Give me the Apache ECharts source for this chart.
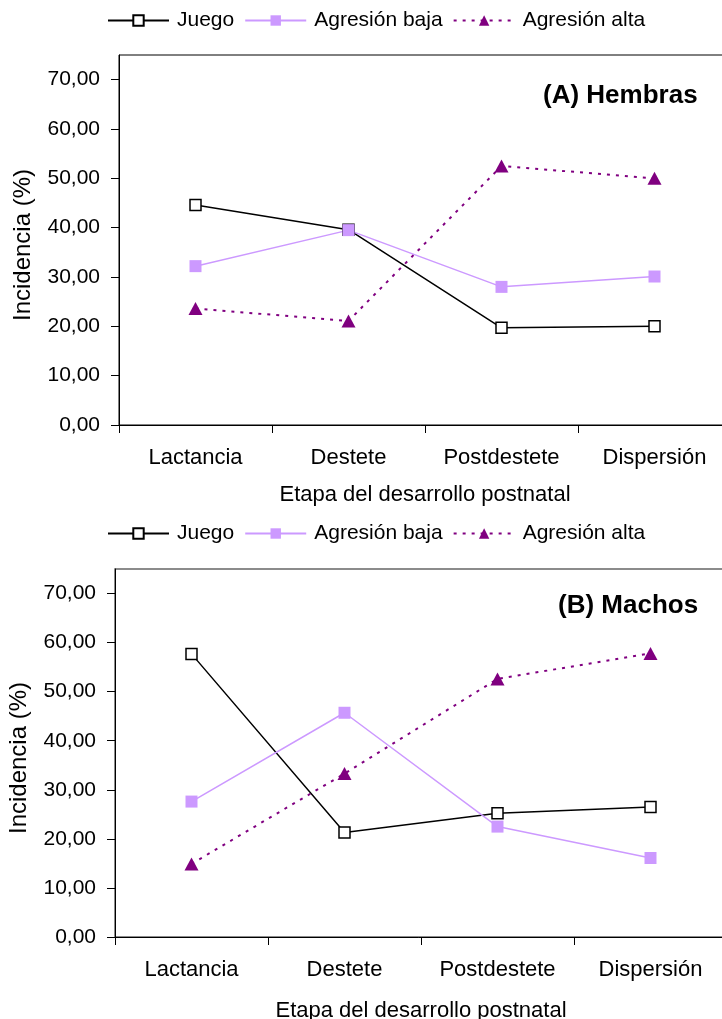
<!DOCTYPE html>
<html>
<head>
<meta charset="utf-8">
<script src="https://cdn.jsdelivr.net/npm/echarts@6/dist/echarts.min.js"></script>
<style>
html,body{margin:0;padding:0;background:#fff;}
#main{width:722px;height:1019px;}
</style>
</head>
<body>
<div id="main"></div>
<script>
var categories = ['Lactancia', 'Destete', 'Postdestete', 'Dispersión'];
var seriesNames = ['Juego', 'Agresión baja', 'Agresión alta'];
var yTicks = [0, 10, 20, 30, 40, 50, 60, 70];
var hembrasJuego = [44.6, 39.6, 19.7, 20.0];
var hembrasBaja = [32.2, 39.5, 28.0, 30.1];
var hembrasAlta = [23.6, 21.1, 52.5, 50.0];
var machosJuego = [57.7, 21.3, 25.2, 26.5];
var machosBaja = [27.6, 45.7, 22.5, 16.1];
var machosAlta = [14.9, 33.3, 52.6, 57.8];
var panelTitles = ['(A) Hembras', '(B) Machos'];
var xName = 'Etapa del desarrollo postnatal';
var yName = 'Incidencia (%)';

var FONT = "'Liberation Sans', Arial, sans-serif";
var chart = echarts.init(document.getElementById('main'), null, {renderer: 'canvas'});

function yAxisCfg(gi) {
  return {
    type: 'value', gridIndex: gi, min: 0, max: 75,
    name: yName, nameLocation: 'middle', nameGap: 84,
    nameTextStyle: {fontFamily: FONT, fontSize: 24, color: '#000', padding: [0, 10, 0, 0]},
    axisLine: {show: true, lineStyle: {color: '#000', width: 1}},
    axisTick: {show: true, length: 8, customValues: yTicks, lineStyle: {color: '#000'}},
    axisLabel: {customValues: yTicks, margin: 19, fontFamily: FONT, fontSize: 21, color: '#000',
      formatter: function (v) { return v.toFixed(2).replace('.', ','); }},
    splitLine: {show: false}
  };
}
function xAxisCfg(gi, gap) {
  return {
    type: 'category', gridIndex: gi, data: categories, boundaryGap: true,
    name: xName, nameLocation: 'middle', nameGap: gap,
    nameTextStyle: {fontFamily: FONT, fontSize: 22, color: '#000'},
    axisLine: {show: true, lineStyle: {color: '#000', width: 1}},
    axisTick: {show: true, length: 8, alignWithLabel: false, lineStyle: {color: '#000'}},
    axisLabel: {margin: 22, fontFamily: FONT, fontSize: 22, color: '#000'},
    splitLine: {show: false}
  };
}
function seriesSet(gi, juego, baja, alta) {
  return [
    {name: seriesNames[0], type: 'line', xAxisIndex: gi, yAxisIndex: gi, data: juego,
      symbol: 'rect', symbolSize: 11,
      itemStyle: {color: '#fff', borderColor: '#000', borderWidth: 1.5},
      lineStyle: {color: '#000', width: 1.5}},
    {name: seriesNames[1], type: 'line', xAxisIndex: gi, yAxisIndex: gi, data: baja,
      symbol: 'rect', symbolSize: 12,
      itemStyle: {color: '#CC99FF'},
      lineStyle: {color: '#CC99FF', width: 1.5}},
    {name: seriesNames[2], type: 'line', xAxisIndex: gi, yAxisIndex: gi, data: alta,
      symbol: 'triangle', symbolSize: [14, 13],
      itemStyle: {color: '#800080'},
      lineStyle: {color: '#800080', width: 2, type: [3, 6]}}
  ];
}
function legendCfg(top) {
  return {
    top: top, left: 107, padding: 0, itemGap: 10, itemWidth: 61, itemHeight: 13,
    data: seriesNames,
    textStyle: {fontFamily: FONT, fontSize: 21, color: '#000', padding: [0, 0, 0, 3]}
  };
}
var titleFont = {fontFamily: FONT, fontWeight: 'bold', fontSize: 26, color: '#000'};

var option = {
  animation: false,
  backgroundColor: '#fff',
  title: [
    {text: panelTitles[0], left: 543, top: 83, padding: 0, textStyle: titleFont},
    {text: panelTitles[1], left: 558, top: 593, padding: 0, textStyle: titleFont}
  ],
  legend: [legendCfg(10), legendCfg(523)],
  grid: [
    {left: 119, top: 55, width: 612, height: 370, show: true, borderColor: '#000', borderWidth: 1,
      backgroundColor: 'transparent', outerBoundsMode: 'none', containLabel: false},
    {left: 115, top: 569, width: 612, height: 368, show: true, borderColor: '#666', borderWidth: 1.5,
      backgroundColor: 'transparent', outerBoundsMode: 'none', containLabel: false}
  ],
  xAxis: [xAxisCfg(0, 59), xAxisCfg(1, 63)],
  yAxis: [yAxisCfg(0), yAxisCfg(1)],
  series: seriesSet(0, hembrasJuego, hembrasBaja, hembrasAlta)
    .concat(seriesSet(1, machosJuego, machosBaja, machosAlta))
};
chart.setOption(option);
</script>
</body>
</html>
